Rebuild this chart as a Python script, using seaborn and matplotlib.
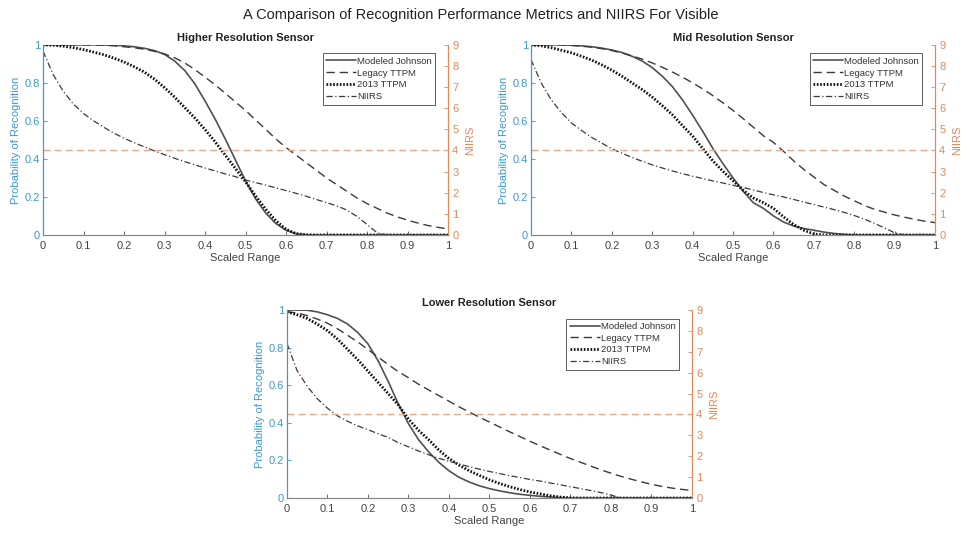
import matplotlib
matplotlib.use("Agg")
import matplotlib.pyplot as plt
import seaborn as sns

# Sample positions along the normalised range axis
scaled_range = [0, 0.025, 0.05, 0.075, 0.1, 0.125, 0.15, 0.175, 0.2, 0.225,
                0.25, 0.275, 0.3, 0.325, 0.35, 0.375, 0.4, 0.425, 0.45, 0.475,
                0.5, 0.525, 0.55, 0.575, 0.6, 0.625, 0.65, 0.675, 0.7, 0.725,
                0.75, 0.775, 0.8, 0.825, 0.85, 0.875, 0.9, 0.925, 0.95, 0.975, 1.0]

# Higher resolution sensor
high_johnson = [1, 1, 1, 1, 1, 1, 0.999, 0.998, 0.995, 0.99,
                0.982, 0.97, 0.95, 0.915, 0.865, 0.795, 0.705, 0.61, 0.505, 0.395,
                0.285, 0.19, 0.115, 0.06, 0.025, 0.006, 0.001, 0, 0, 0,
                0, 0, 0, 0, 0, 0, 0, 0, 0, 0, 0]
high_legacy = [1, 1, 1, 1, 1, 0.999, 0.998, 0.995, 0.99, 0.985,
               0.977, 0.966, 0.952, 0.932, 0.905, 0.87, 0.83, 0.79, 0.745, 0.70,
               0.655, 0.605, 0.555, 0.505, 0.46, 0.42, 0.38, 0.34, 0.30, 0.265,
               0.23, 0.195, 0.165, 0.14, 0.115, 0.095, 0.078, 0.063, 0.05, 0.04, 0.032]
high_ttpm2013 = [1, 0.998, 0.993, 0.985, 0.975, 0.962, 0.948, 0.93, 0.91, 0.885,
                 0.857, 0.82, 0.775, 0.725, 0.67, 0.615, 0.555, 0.49, 0.42, 0.35,
                 0.28, 0.205, 0.135, 0.075, 0.03, 0.007, 0.001, 0, 0, 0,
                 0, 0, 0, 0, 0, 0, 0, 0, 0, 0, 0]
high_niirs = [8.7, 7.6, 6.8, 6.2, 5.75, 5.4, 5.1, 4.82, 4.58, 4.37,
              4.17, 3.98, 3.8, 3.63, 3.47, 3.32, 3.17, 3.03, 2.89, 2.76,
              2.6, 2.48, 2.36, 2.23, 2.1, 1.97, 1.83, 1.68, 1.53, 1.38,
              1.18, 0.88, 0.5, 0.1, 0, 0, 0, 0, 0, 0, 0]

# Mid resolution sensor
mid_johnson = [1, 1, 1, 1, 0.998, 0.995, 0.99, 0.983, 0.973, 0.96,
               0.94, 0.915, 0.88, 0.835, 0.78, 0.71, 0.63, 0.545, 0.455, 0.375,
               0.3, 0.23, 0.17, 0.14, 0.1, 0.068, 0.047, 0.034, 0.025, 0.015,
               0.008, 0.003, 0, 0, 0, 0, 0, 0, 0, 0, 0]
mid_legacy = [1, 1, 1, 0.999, 0.997, 0.993, 0.988, 0.98, 0.97, 0.957,
              0.942, 0.925, 0.905, 0.882, 0.857, 0.83, 0.8, 0.768, 0.733, 0.695,
              0.655, 0.612, 0.567, 0.522, 0.487, 0.44, 0.39, 0.345, 0.305, 0.265,
              0.235, 0.205, 0.18, 0.155, 0.135, 0.12, 0.105, 0.093, 0.082, 0.072, 0.065]
mid_ttpm2013 = [1, 0.995, 0.985, 0.972, 0.958, 0.94, 0.92, 0.895, 0.867, 0.835,
                0.8, 0.765, 0.725, 0.68, 0.632, 0.575, 0.52, 0.455, 0.39, 0.335,
                0.285, 0.235, 0.195, 0.17, 0.14, 0.095, 0.055, 0.025, 0.005, 0,
                0, 0, 0, 0, 0, 0, 0, 0, 0, 0, 0]
mid_niirs = [8.3, 7.2, 6.4, 5.8, 5.3, 4.95, 4.62, 4.35, 4.08, 3.87,
             3.67, 3.49, 3.32, 3.17, 3.03, 2.9, 2.78, 2.67, 2.56, 2.46,
             2.35, 2.25, 2.13, 2.01, 1.9, 1.8, 1.68, 1.56, 1.44, 1.32,
             1.2, 1.07, 0.92, 0.75, 0.55, 0.33, 0.1, 0, 0, 0, 0]

# Lower resolution sensor
low_johnson = [1, 1, 0.999, 0.99, 0.975, 0.955, 0.925, 0.88, 0.82, 0.73,
               0.62, 0.5, 0.395, 0.31, 0.245, 0.19, 0.145, 0.11, 0.085, 0.065,
               0.05, 0.038, 0.028, 0.02, 0.014, 0.009, 0.005, 0.002, 0, 0,
               0, 0, 0, 0, 0, 0, 0, 0, 0, 0, 0]
low_legacy = [0.99, 0.985, 0.97, 0.952, 0.93, 0.9, 0.865, 0.83, 0.79, 0.75,
              0.71, 0.672, 0.64, 0.605, 0.575, 0.545, 0.515, 0.485, 0.457, 0.43,
              0.404, 0.378, 0.352, 0.327, 0.302, 0.278, 0.255, 0.232, 0.21, 0.19,
              0.17, 0.15, 0.132, 0.115, 0.1, 0.086, 0.073, 0.062, 0.053, 0.046, 0.04]
low_ttpm2013 = [0.99, 0.975, 0.955, 0.925, 0.89, 0.845, 0.79, 0.735, 0.675, 0.615,
                0.555, 0.495, 0.42, 0.36, 0.31, 0.255, 0.21, 0.175, 0.145, 0.12,
                0.097, 0.077, 0.06, 0.045, 0.032, 0.022, 0.012, 0.005, 0.001, 0,
                0, 0, 0, 0, 0, 0, 0, 0, 0, 0, 0]
low_niirs = [7.4, 6.1, 5.35, 4.75, 4.3, 3.93, 3.67, 3.45, 3.27, 3.08,
             2.9, 2.65, 2.45, 2.25, 2.07, 1.9, 1.76, 1.63, 1.5, 1.38,
             1.27, 1.17, 1.07, 0.98, 0.89, 0.81, 0.72, 0.63, 0.54, 0.45,
             0.36, 0.26, 0.14, 0, 0, 0, 0, 0, 0, 0, 0]

NIIRS_THRESHOLD = 4
x_ticks = [0, 0.1, 0.2, 0.3, 0.4, 0.5, 0.6, 0.7, 0.8, 0.9, 1]
x_tick_labels = ["0", "0.1", "0.2", "0.3", "0.4", "0.5", "0.6", "0.7", "0.8", "0.9", "1"]
p_ticks = [0, 0.2, 0.4, 0.6, 0.8, 1]
p_tick_labels = ["0", "0.2", "0.4", "0.6", "0.8", "1"]
niirs_ticks = [0, 1, 2, 3, 4, 5, 6, 7, 8, 9]

sns.set_theme(style="white")
plt.rcParams["font.family"] = ["Liberation Sans", "DejaVu Sans"]

BLUE = "#3c9acb"
ORANGE = "#e0895a"
ORANGE_LINE = "#f0a882"
GREY = "#555555"
LINE = "#3a3a3a"

fig = plt.figure(figsize=(9.62, 5.34), dpi=100)
fig.suptitle("A Comparison of Recognition Performance Metrics and NIIRS For Visible",
             fontsize=10.5, color="#222222", y=0.985)

panels = [
    ("Higher Resolution Sensor", [0.0447, 0.56, 0.421, 0.356],
     high_johnson, high_legacy, high_ttpm2013, high_niirs),
    ("Mid Resolution Sensor", [0.552, 0.56, 0.42, 0.356],
     mid_johnson, mid_legacy, mid_ttpm2013, mid_niirs),
    ("Lower Resolution Sensor", [0.2983, 0.0674, 0.421, 0.352],
     low_johnson, low_legacy, low_ttpm2013, low_niirs),
]

for title, rect, johnson, legacy, ttpm, niirs in panels:
    ax = fig.add_axes(rect)
    ax2 = ax.twinx()

    sns.lineplot(x=scaled_range, y=johnson, ax=ax, color="#505050", lw=1.2,
                 linestyle="-", label="Modeled Johnson", legend=False)
    sns.lineplot(x=scaled_range, y=legacy, ax=ax, color=LINE, lw=1.0,
                 linestyle=(0, (6, 3.5)), label="Legacy TTPM", legend=False)
    sns.lineplot(x=scaled_range, y=ttpm, ax=ax, color="#111111", lw=2.0,
                 linestyle=(0, (0.6, 0.6)), label="2013 TTPM", legend=False)
    sns.lineplot(x=scaled_range, y=niirs, ax=ax2, color=LINE, lw=0.9,
                 linestyle=(0, (5, 2, 1, 2)), label="NIIRS", legend=False)
    ax2.axhline(NIIRS_THRESHOLD, color=ORANGE_LINE, lw=1.0, linestyle=(0, (5, 3)))

    ax.set_xlim(0, 1)
    ax.set_ylim(0, 1)
    ax2.set_ylim(0, 9)
    ax.set_xticks(x_ticks)
    ax.set_xticklabels(x_tick_labels)
    ax.set_yticks(p_ticks)
    ax.set_yticklabels(p_tick_labels)
    ax2.set_yticks(niirs_ticks)

    ax.set_title(title, fontsize=8, fontweight="bold", color="#222222", pad=3)
    ax.set_xlabel("Scaled Range", fontsize=8, color="#444444", labelpad=2)
    ax.set_ylabel("Probability of Recognition", fontsize=8, color=BLUE, labelpad=3)
    ax2.set_ylabel("NIIRS", fontsize=8, color=ORANGE, labelpad=5)

    ax.tick_params(axis="x", direction="in", length=3, width=0.6, colors=GREY,
                   labelsize=8, pad=4, bottom=True)
    ax.tick_params(axis="y", direction="in", length=3, width=0.6, colors=BLUE,
                   labelsize=8, pad=2, left=True)
    ax2.tick_params(axis="y", direction="in", length=3, width=0.6, colors=ORANGE,
                    labelsize=8, pad=3, right=True)
    ax.tick_params(axis="x", labelcolor="#444444")

    for a in (ax, ax2):
        a.spines["top"].set_visible(False)
        a.spines["bottom"].set_color("#888888")
        a.spines["bottom"].set_linewidth(0.8)
        a.spines["left"].set_color(BLUE)
        a.spines["left"].set_linewidth(0.8)
        a.spines["right"].set_color(ORANGE)
        a.spines["right"].set_linewidth(0.8)
        a.grid(False)

    handles = ax.get_lines()[:3] + ax2.get_lines()[:1]
    labels = ["Modeled Johnson", "Legacy TTPM", "2013 TTPM", "NIIRS"]
    leg = ax2.legend(handles, labels, loc="upper right", bbox_to_anchor=(0.975, 0.97),
                     fontsize=6.8, frameon=True, fancybox=False, handlelength=3.2,
                     handletextpad=0.1, borderpad=0.35, labelspacing=0.3,
                     borderaxespad=0.3)
    leg.get_frame().set_edgecolor("#333333")
    leg.get_frame().set_linewidth(0.7)
    for t in leg.get_texts():
        t.set_color("#333333")

fig.savefig("out.png", dpi=100, facecolor="white")
